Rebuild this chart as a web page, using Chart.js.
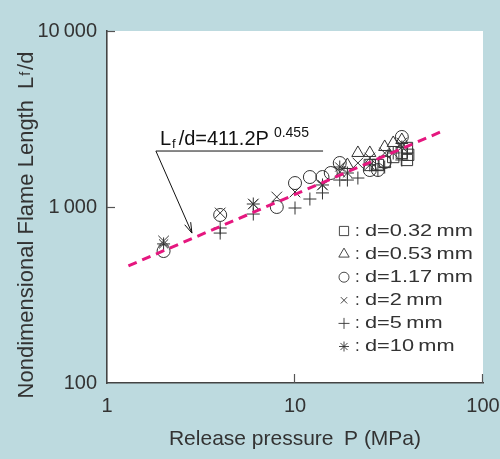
<!DOCTYPE html>
<html><head><meta charset="utf-8">
<script src="https://cdn.jsdelivr.net/npm/chart.js@4"></script>
<style>html,body{margin:0;padding:0;background:#bddadf}canvas{display:block}</style>
</head><body>
<canvas id="c" width="500" height="459"></canvas>
<script>
// ---- data ----
const xTicks = [1, 10, 100];
const xTickLabels = ['1', '10', '100'];
const yTicks = [100, 1000, 10000];
const yTickLabels = ['100', '1\u2009000', '10\u2009000'];

const seriesNames = ['d=0.32\u2009mm', 'd=0.53\u2009mm', 'd=1.17\u2009mm', 'd=2\u2009mm', 'd=5\u2009mm', 'd=10\u2009mm'];

const p032 = [25, 27.6, 30, 33.3, 37, 39.4, 39.4, 40];
const l032 = [1733, 1733, 1802, 1923, 2028, 2164, 1850, 1980];

const p053 = [19, 21.6, 25, 30, 33.3, 37];
const l053 = [1733, 2028, 2028, 2193, 2311, 2403];

const p117 = [2, 4, 8, 10, 12, 14, 15.5, 17.3, 25, 27.6, 30, 37];
const l117 = [562, 901, 1000, 1368, 1480, 1480, 1560, 1778, 1622, 1622, 1802, 2500];

const p2 = [2, 4, 6, 8, 10, 14, 17.3, 21.6, 25, 30, 37];
const l2 = [641, 925, 1040, 1140, 1217, 1334, 1581, 1778, 1898, 2028, 2311];

const p5 = [4, 4, 6, 10, 12, 14, 17.3, 19, 21.6, 27.6, 30, 37, 39.4];
const l5 = [711, 760, 912, 987, 1110, 1202, 1423, 1423, 1461, 1622, 1687, 1850, 2028];

const p10 = [2, 6, 14, 17.3, 19, 25, 33.3, 37];
const l10 = [617, 1040, 1334, 1687, 1560, 1733, 2028, 2193];

// fitted line end points
const fitP = [1.3, 60];
const fitL = [463, 2680];

// annotation (data coordinates)
const annoText = ['L', 'f', '/d=411.2P', '0.455'];
const annoStart = [1.82, 2080];   // left end of underline
const annoEnd = [14.1, 2080];     // right end of underline
const annoTip = [2.83, 711];      // arrow tip

// ---- helpers ----
const zip = (a, b) => a.map((v, i) => ({x: v, y: b[i]}));
const FONT = "'Liberation Sans', Arial, sans-serif";
const INK = '#333';
const styles = ['rect', 'triangle', 'circle', 'crossRot', 'cross', 'star'];
const radii = [8, 7, 6.5, 7.5, 6.5, 6.5];
const seriesData = [[p032, l032], [p053, l053], [p117, l117], [p2, l2], [p5, l5], [p10, l10]];

const datasets = [{
  type: 'line',
  data: zip(fitP, fitL),
  borderColor: '#e5177f',
  borderWidth: 3,
  borderDash: [9, 6],
  pointRadius: 0,
  fill: false
}];
seriesData.forEach((s, i) => {
  datasets.push({
    type: 'scatter',
    label: seriesNames[i],
    data: zip(s[0], s[1]),
    pointStyle: styles[i],
    pointRadius: radii[i],
    pointBorderColor: INK,
    pointBackgroundColor: 'rgba(0,0,0,0)',
    pointBorderWidth: 1
  });
});

const deco = {
  id: 'deco',
  beforeDraw(chart) {
    const {ctx, chartArea: a} = chart;
    ctx.save();
    ctx.fillStyle = '#bddadf';
    ctx.fillRect(0, 0, chart.width, chart.height);
    ctx.fillStyle = '#ffffff';
    ctx.fillRect(a.left, a.top, a.right - a.left, a.bottom - a.top);
    ctx.restore();
  },
  afterDraw(chart) {
    const {ctx, chartArea: a, scales: {x, y}} = chart;
    ctx.save();
    // inward tick marks
    ctx.strokeStyle = '#555';
    ctx.lineWidth = 1.2;
    yTicks.slice(1).forEach(v => {
      const py = Math.round(y.getPixelForValue(v)) + 0.5;
      ctx.beginPath(); ctx.moveTo(a.left, py); ctx.lineTo(a.left + 8, py); ctx.stroke();
    });
    xTicks.slice(1).forEach(v => {
      const px = Math.round(x.getPixelForValue(v)) - 0.5;
      ctx.beginPath(); ctx.moveTo(px, a.bottom); ctx.lineTo(px, a.bottom - 9); ctx.stroke();
    });

    // axis titles
    ctx.fillStyle = INK;
    ctx.textBaseline = 'alphabetic';
    ctx.font = '21px ' + FONT;
    ctx.textAlign = 'center';
    ctx.fillText('Release pressure\u2002P (MPa)', (a.left + a.right) / 2, 445);

    // y title, rotated, with subscript f
    const t1 = 'Nondimensional Flame Length\u2002L', t2 = 'f', t3 = '/d';
    ctx.font = '22px ' + FONT; const w1 = ctx.measureText(t1).width;
    ctx.font = '14px ' + FONT; const w2 = ctx.measureText(t2).width + 3;
    ctx.font = '22px ' + FONT; const w3 = ctx.measureText(t3).width;
    const tot = w1 + w2 + w3;
    ctx.translate(33, 225);
    ctx.rotate(-Math.PI / 2);
    ctx.textAlign = 'left';
    let sx = -tot / 2;
    ctx.font = '22px ' + FONT; ctx.fillText(t1, sx, 0); sx += w1;
    ctx.font = '14px ' + FONT; ctx.fillText(t2, sx + 1, -3); sx += w2;
    ctx.font = '22px ' + FONT; ctx.fillText(t3, sx, 0);
    ctx.setTransform(1, 0, 0, 1, 0, 0);

    // annotation
    const ax0 = x.getPixelForValue(annoStart[0]), ay0 = y.getPixelForValue(annoStart[1]);
    const ax1 = x.getPixelForValue(annoEnd[0]);
    const tx = x.getPixelForValue(annoTip[0]), ty = y.getPixelForValue(annoTip[1]);
    ctx.strokeStyle = '#111';
    ctx.lineWidth = 1;
    ctx.beginPath(); ctx.moveTo(ax0, ay0); ctx.lineTo(ax1, ay0); ctx.stroke();
    ctx.beginPath(); ctx.moveTo(ax0, ay0); ctx.lineTo(tx, ty); ctx.stroke();
    const ang = Math.atan2(ty - ay0, tx - ax0);
    ctx.beginPath();
    ctx.moveTo(tx - 11 * Math.cos(ang - 0.3), ty - 11 * Math.sin(ang - 0.3));
    ctx.lineTo(tx, ty);
    ctx.lineTo(tx - 11 * Math.cos(ang + 0.3), ty - 11 * Math.sin(ang + 0.3));
    ctx.stroke();
    ctx.fillStyle = '#111';
    let bx = ax0 + 4; const by = ay0 - 6;
    ctx.textAlign = 'left';
    ctx.font = '20px ' + FONT; ctx.fillText(annoText[0], bx, by); bx += ctx.measureText(annoText[0]).width + 1;
    ctx.font = '13px ' + FONT; ctx.fillText(annoText[1], bx, by + 3); bx += ctx.measureText(annoText[1]).width + 3;
    ctx.font = '20px ' + FONT; ctx.fillText(annoText[2], bx, by); bx += ctx.measureText(annoText[2]).width + 5;
    ctx.font = '14px ' + FONT; ctx.fillText(annoText[3], bx, by - 8);

    // legend
    const lx = 344, ly0 = 231, dy = 23.1;
    seriesNames.forEach((name, i) => {
      const cy = ly0 + i * dy;
      ctx.strokeStyle = INK; ctx.lineWidth = 0.9;
      ctx.fillStyle = 'rgba(0,0,0,0)';
      Chart.helpers.drawPoint(ctx, {pointStyle: styles[i], radius: [6.5, 6, 5, 4.5, 5.5, 5][i], rotation: 0, borderWidth: 0.9}, lx, cy);
      ctx.fillStyle = INK;
      ctx.font = '17px ' + FONT;
      ctx.textBaseline = 'middle';
      ctx.fillText(':', 355, cy);
      ctx.save();
      ctx.translate(365, cy);
      ctx.scale(1.28, 1);
      ctx.fillText(name, 0, 0);
      ctx.restore();
      ctx.textBaseline = 'alphabetic';
    });
    ctx.restore();
  }
};

new Chart(document.getElementById('c'), {
  data: {datasets},
  options: {
    responsive: false,
    animation: false,
    devicePixelRatio: 1,
    layout: {padding: {left: 0, top: 31, right: 17, bottom: 0}},
    plugins: {legend: {display: false}, tooltip: {enabled: false}},
    scales: {
      x: {
        type: 'logarithmic', min: 1, max: 100,
        afterBuildTicks: s => { s.ticks = xTicks.map(v => ({value: v})); },
        afterFit: s => { s.height = 76; s.paddingLeft = 0; s.paddingRight = 0; },
        ticks: {
          autoSkip: false, maxRotation: 0, padding: 11, color: INK,
          font: {family: FONT, size: 20},
          callback: (v) => { const i = xTicks.indexOf(v); return i >= 0 ? xTickLabels[i] : ''; }
        },
        grid: {display: false, drawTicks: false},
        border: {display: true, color: '#444', width: 1.6}
      },
      y: {
        type: 'logarithmic', min: 100, max: 10000,
        afterBuildTicks: s => { s.ticks = yTicks.map(v => ({value: v})); },
        afterFit: s => { s.width = 107; s.paddingTop = 0; s.paddingBottom = 0; },
        ticks: {
          autoSkip: false, padding: 10, color: INK,
          font: {family: FONT, size: 20},
          callback: (v) => { const i = yTicks.indexOf(v); return i >= 0 ? yTickLabels[i] : ''; }
        },
        grid: {display: false, drawTicks: false},
        border: {display: true, color: '#444', width: 1.6}
      }
    }
  },
  plugins: [deco]
});
</script>
</body></html>
